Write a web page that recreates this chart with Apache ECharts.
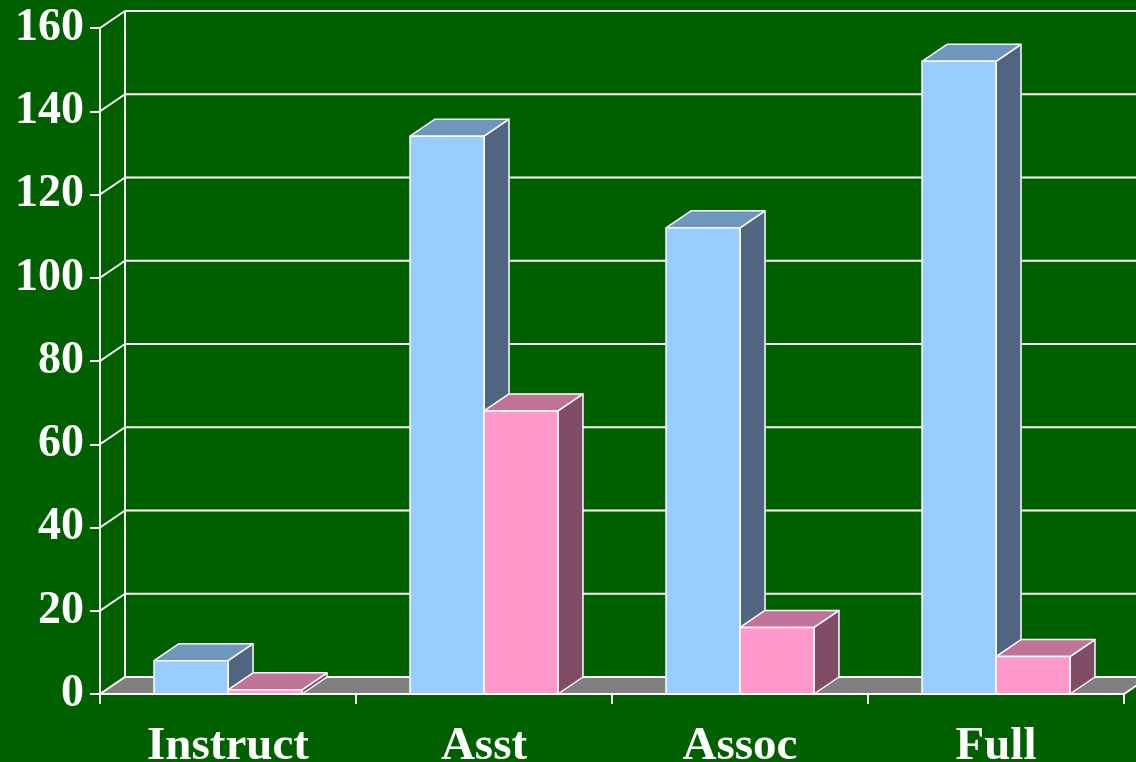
<!DOCTYPE html>
<html>
<head>
<meta charset="utf-8">
<script src="https://cdn.jsdelivr.net/npm/echarts@6/dist/echarts.min.js"></script>
<style>
html,body{margin:0;padding:0;background:#006000;}
#chart{width:1136px;height:762px;}
</style>
</head>
<body>
<div id="chart"></div>
<script>
const categories = ['Instruct', 'Asst', 'Assoc', 'Full'];
const blueValues = [8, 134, 112, 152];
const pinkValues = [1, 68, 16, 9];
const yTicks = [0, 20, 40, 60, 80, 100, 120, 140, 160];

const DX = 25, DY = -17;
const FONT = 'Liberation Serif';
const EDGE = '#ffffff';

function wallItem(params, api) {
  const cs = params.coordSys;
  const v = api.value(1);
  const y = api.coord([0, v])[1];
  const left = cs.x, right = cs.x + cs.width;
  const children = [];
  if (v === 0) {
    children.push({
      type: 'polygon',
      shape: { points: [[left, y], [right, y], [right + DX, y + DY], [left + DX, y + DY]] },
      style: { fill: '#808080', stroke: EDGE, lineWidth: 2 }
    });
    const yTop = api.coord([0, yTicks[yTicks.length - 1]])[1];
    children.push({
      type: 'line',
      shape: { x1: left + DX, y1: y + DY, x2: left + DX, y2: yTop + DY },
      style: { stroke: EDGE, lineWidth: 2 }
    });
  } else {
    children.push({
      type: 'line',
      shape: { x1: left, y1: y, x2: left + DX, y2: y + DY },
      style: { stroke: EDGE, lineWidth: 2 }
    });
    children.push({
      type: 'line',
      shape: { x1: left + DX, y1: y + DY, x2: right + DX + 20, y2: y + DY },
      style: { stroke: EDGE, lineWidth: 2 }
    });
  }
  return { type: 'group', children: children };
}

function barRenderer(colors, side) {
  return function (params, api) {
    const i = api.value(0);
    const v = api.value(1);
    const top = api.coord([i, v]);
    const base = api.coord([i, 0]);
    const band = api.size([1, 0])[0];
    const bw = band * 0.289;
    const cx = top[0];
    const x0 = side === 0 ? cx - bw : cx;
    const x1 = side === 0 ? cx : cx + bw;
    const yt = top[1], yb = base[1];
    const st = { stroke: EDGE, lineWidth: 1.5, lineJoin: 'round' };
    return {
      type: 'group',
      children: [
        { type: 'polygon', shape: { points: [[x1, yt], [x1 + DX, yt + DY], [x1 + DX, yb + DY], [x1, yb]] },
          style: Object.assign({ fill: colors.side }, st) },
        { type: 'polygon', shape: { points: [[x0, yt], [x1, yt], [x1 + DX, yt + DY], [x0 + DX, yt + DY]] },
          style: Object.assign({ fill: colors.top }, st) },
        { type: 'rect', shape: { x: x0, y: yt, width: x1 - x0, height: yb - yt },
          style: Object.assign({ fill: colors.front }, st) }
      ]
    };
  };
}

const chart = echarts.init(document.getElementById('chart'), null, { renderer: 'canvas' });
chart.setOption({
  backgroundColor: '#006000',
  animation: false,
  grid: { left: 100, right: 12, top: 28, bottom: 68, containLabel: false, outerBoundsMode: 'none' },
  xAxis: {
    type: 'category',
    data: categories,
    boundaryGap: true,
    axisLine: { show: true, lineStyle: { color: EDGE, width: 2 } },
    axisTick: { show: true, length: 10, lineStyle: { color: EDGE, width: 2 } },
    axisLabel: { color: '#ffffff', fontFamily: FONT, fontWeight: 'bold', fontSize: 47, margin: 29 },
    splitLine: { show: false },
    z: 10
  },
  yAxis: {
    type: 'value',
    min: 0, max: 160, interval: 20,
    axisLine: { show: true, lineStyle: { color: EDGE, width: 2 } },
    axisTick: { show: true, length: 10, lineStyle: { color: EDGE, width: 2 } },
    axisLabel: { color: '#ffffff', fontFamily: FONT, fontWeight: 'bold', fontSize: 46, margin: 16 },
    splitLine: { show: false },
    z: 10
  },
  series: [
    {
      type: 'custom', name: 'walls', silent: true, z: 1,
      data: yTicks.map(v => [0, v]),
      encode: { x: 0, y: 1 },
      renderItem: wallItem
    },
    {
      type: 'custom', name: 'Series 1', z: 2,
      data: blueValues.map((v, i) => [i, v]),
      encode: { x: 0, y: 1 },
      renderItem: barRenderer({ front: '#99ccff', top: '#6f97bd', side: '#4f6580' }, 0)
    },
    {
      type: 'custom', name: 'Series 2', z: 3,
      data: pinkValues.map((v, i) => [i, v]),
      encode: { x: 0, y: 1 },
      renderItem: barRenderer({ front: '#ff99cc', top: '#c07398', side: '#804c66' }, 1)
    }
  ]
});
</script>
</body>
</html>
